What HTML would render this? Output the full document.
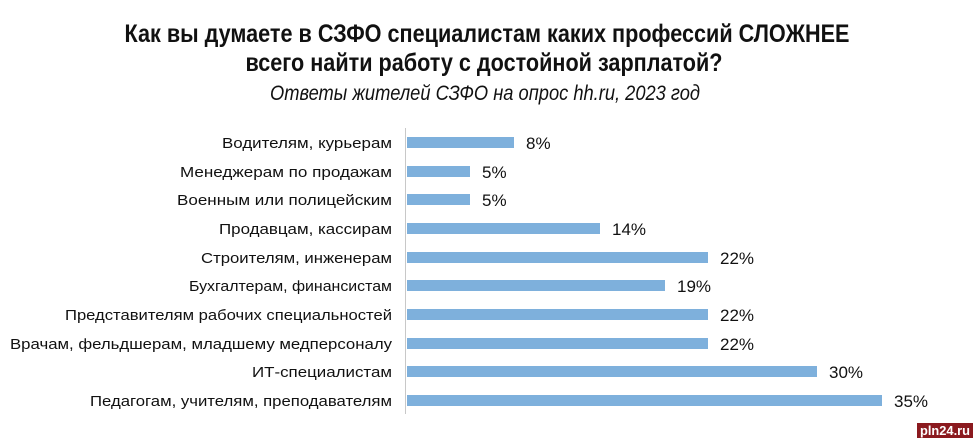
<!DOCTYPE html>
<html><head><meta charset="utf-8"><style>
html,body{margin:0;padding:0;background:#fff;}
svg{display:block;}
text{font-family:"Liberation Sans Narrow","Liberation Sans",sans-serif;fill:#111;}
</style></head><body>
<svg width="973" height="438" viewBox="0 0 973 438" xmlns="http://www.w3.org/2000/svg">
<text x="487" y="42" font-size="25" font-weight="bold" text-anchor="middle" textLength="725" lengthAdjust="spacingAndGlyphs">Как вы думаете в СЗФО специалистам каких профессий СЛОЖНЕЕ</text>
<text x="484" y="71" font-size="25" font-weight="bold" text-anchor="middle" textLength="477" lengthAdjust="spacingAndGlyphs">всего найти работу с достойной зарплатой?</text>
<text x="485" y="100" font-size="21" font-style="italic" text-anchor="middle" textLength="430" lengthAdjust="spacingAndGlyphs">Ответы жителей СЗФО на опрос hh.ru, 2023 год</text>
<line x1="405.5" y1="128" x2="405.5" y2="414" stroke="#c8c8c8" stroke-width="1"/>
<g fill="#7eb0dc">
<rect x="407" y="137" width="107" height="11"/>
<rect x="407" y="166" width="63" height="11"/>
<rect x="407" y="194" width="63" height="11"/>
<rect x="407" y="223" width="193" height="11"/>
<rect x="407" y="252" width="301" height="11"/>
<rect x="407" y="280" width="258" height="11"/>
<rect x="407" y="309" width="301" height="11"/>
<rect x="407" y="338" width="301" height="11"/>
<rect x="407" y="366" width="410" height="11"/>
<rect x="407" y="395" width="475" height="11"/>
</g>
<g font-size="15" text-anchor="end">
<text x="392" y="148" textLength="170" lengthAdjust="spacingAndGlyphs">Водителям, курьерам</text>
<text x="392" y="177" textLength="212" lengthAdjust="spacingAndGlyphs">Менеджерам по продажам</text>
<text x="392" y="205" textLength="215" lengthAdjust="spacingAndGlyphs">Военным или полицейским</text>
<text x="392" y="234" textLength="173" lengthAdjust="spacingAndGlyphs">Продавцам, кассирам</text>
<text x="392" y="263" textLength="191" lengthAdjust="spacingAndGlyphs">Строителям, инженерам</text>
<text x="392" y="291" textLength="203" lengthAdjust="spacingAndGlyphs">Бухгалтерам, финансистам</text>
<text x="392" y="320" textLength="327" lengthAdjust="spacingAndGlyphs">Представителям рабочих специальностей</text>
<text x="392" y="349" textLength="382" lengthAdjust="spacingAndGlyphs">Врачам, фельдшерам, младшему медперсоналу</text>
<text x="392" y="377" textLength="140" lengthAdjust="spacingAndGlyphs">ИТ-специалистам</text>
<text x="392" y="406" textLength="302" lengthAdjust="spacingAndGlyphs">Педагогам, учителям, преподавателям</text>
</g>
<g font-size="17">
<text x="526" y="149">8%</text>
<text x="482" y="178">5%</text>
<text x="482" y="206">5%</text>
<text x="612" y="235">14%</text>
<text x="720" y="264">22%</text>
<text x="677" y="292">19%</text>
<text x="720" y="321">22%</text>
<text x="720" y="350">22%</text>
<text x="829" y="378">30%</text>
<text x="894" y="407">35%</text>
</g>
<rect x="917" y="423" width="56" height="15" fill="#8b1a1f"/>
<text x="945" y="435" font-size="13" font-weight="bold" text-anchor="middle" style="fill:#fff;font-family:'Liberation Sans',sans-serif" textLength="50" lengthAdjust="spacingAndGlyphs">pln24.ru</text>
</svg>
</body></html>
